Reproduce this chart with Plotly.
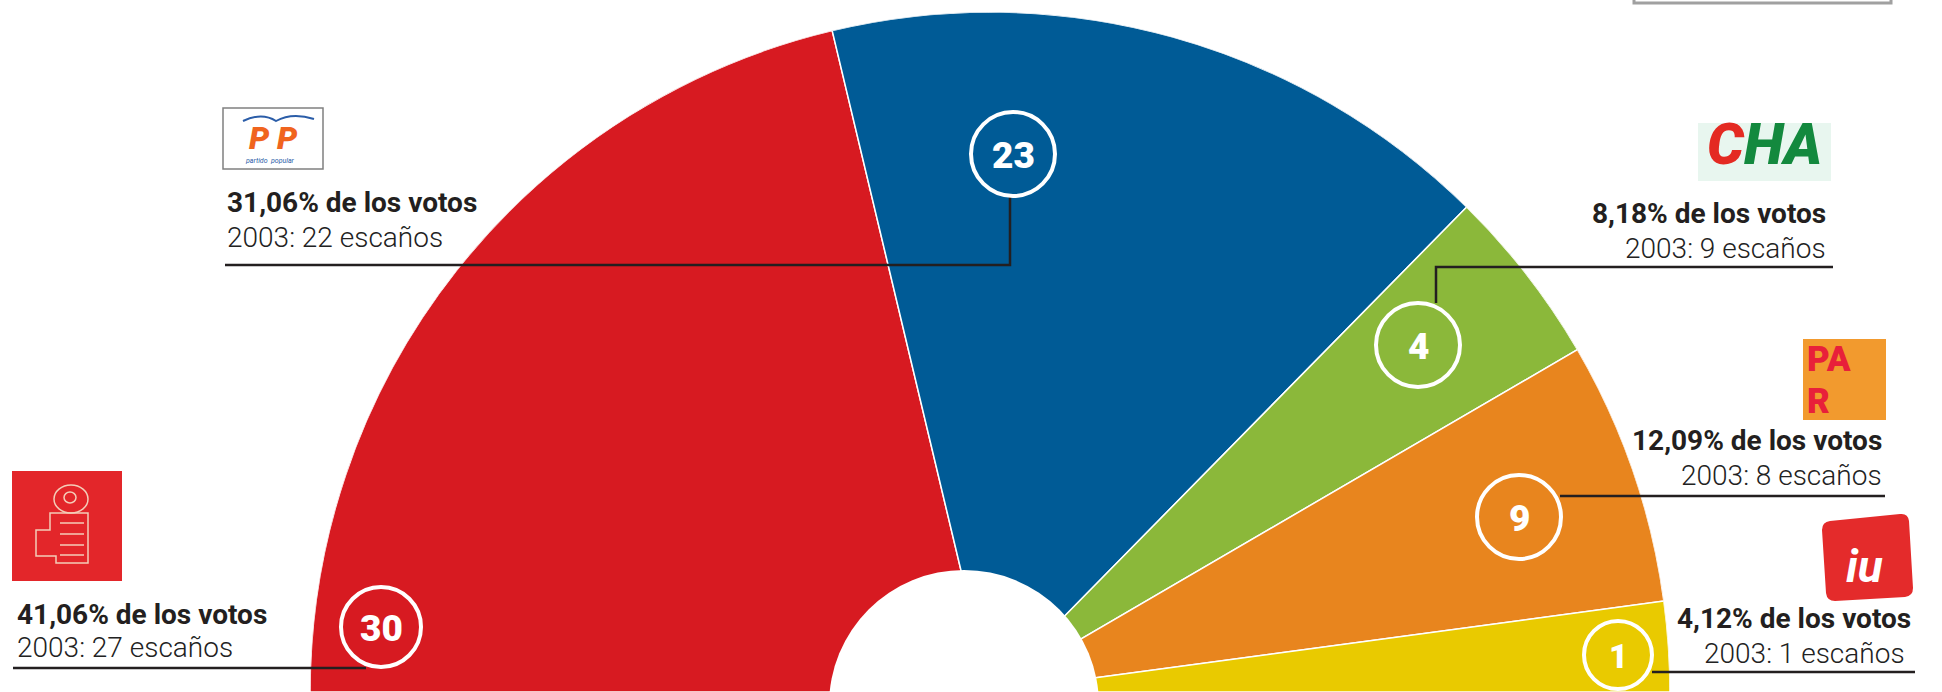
import plotly.graph_objects as go

# ---------------- data ----------------
parties = ["PSOE", "PP", "CHA", "PAR", "IU"]
seats = [30, 23, 4, 9, 1]
vote_pct = [41.06, 31.06, 8.18, 12.09, 4.12]
seats_2003 = [27, 22, 9, 8, 1]
colors = ["#D71A21", "#005B96", "#8BB83A", "#E8851E", "#E9CA00"]

# ---------------- layout helpers (pixel -> paper) ----------------
W, H = 1942, 692


def px(x):
    return x / W


def py(y):
    return 1 - y / H


# slice angles proportional to the vote share (as in the original graphic)
total = sum(vote_pct)
widths = [v / total * 180 for v in vote_pct]
thetas = []
acc = 0.0
for w in widths:
    thetas.append(acc + w / 2)
    acc += w

fig = go.Figure(
    go.Barpolar(
        r=[1] * len(parties),
        theta=thetas,
        width=widths,
        base=0,
        marker=dict(color=colors, line=dict(color="white", width=1.5)),
        hoverinfo="skip",
        showlegend=False,
    )
)

fig.update_layout(
    width=W,
    height=H,
    margin=dict(l=0, r=0, t=0, b=0),
    paper_bgcolor="white",
    plot_bgcolor="white",
    polar=dict(
        domain=dict(x=[px(310), px(1670)], y=[0, 680 / H]),
        sector=[0, 180],
        hole=0,
        bgcolor="rgba(0,0,0,0)",
        radialaxis=dict(range=[0, 1], visible=False, showgrid=False, showline=False, showticklabels=False, ticks=""),
        angularaxis=dict(visible=False, rotation=180, direction="clockwise", showgrid=False,
                         showline=False, showticklabels=False, ticks=""),
    ),
)

shapes = []
annotations = []

# centre hole (slightly offset, as in the original)
hc_x, hc_y, hr = 964, 705, 135
shapes.append(dict(type="circle", xref="paper", yref="paper",
                   x0=px(hc_x - hr), x1=px(hc_x + hr), y0=py(hc_y + hr), y1=py(hc_y - hr),
                   fillcolor="white", line=dict(width=0), layer="above"))

# label placement (pixels): circle centre, radius, number font size
circ_pos = [(381, 627, 40, 37), (1013, 154, 42, 37), (1418, 345, 42, 37), (1519, 517, 42, 37), (1618, 655, 34, 33)]
# text anchor: x, align, bold baseline, regular baseline
text_pos = [(15, "left", 624, 657), (225, "left", 212, 247), (1828, "right", 223, 258),
            (1884, "right", 450, 485), (1913, "right", 628, 663)]
leaders = [
    [(13, 668), (366, 668)],
    [(225, 265), (1010, 265), (1010, 196)],
    [(1833, 267), (1436, 267), (1436, 303)],
    [(1885, 496), (1560, 496)],
    [(1915, 672), (1652, 672)],
]

LINE = "#231F20"
for pts in leaders:
    path = "M " + " L ".join(f"{px(x)},{py(y)}" for x, y in pts)
    shapes.append(dict(type="path", xref="paper", yref="paper", path=path,
                       line=dict(color=LINE, width=2.5), layer="above"))

for i, (cx, cy, r, fs) in enumerate(circ_pos):
    shapes.append(dict(type="circle", xref="paper", yref="paper",
                       x0=px(cx - r), x1=px(cx + r), y0=py(cy + r), y1=py(cy - r),
                       line=dict(color="white", width=4), fillcolor="rgba(0,0,0,0)", layer="above"))
    annotations.append(dict(xref="paper", yref="paper", x=px(cx), y=py(cy + 1), text=f"{seats[i]}",
                            showarrow=False, xanchor="center", yanchor="middle",
                            font=dict(family="Roboto", size=fs, color="white", weight=900)))

BS = 28
RS = 28
for i, (tx, al, b1, b2) in enumerate(text_pos):
    pct = f"{vote_pct[i]:.2f}".replace(".", ",")
    annotations.append(dict(xref="paper", yref="paper", x=px(tx), y=py(b1 - 0.33 * BS),
                            text=f"<b>{pct}% de los votos</b>", showarrow=False,
                            xanchor=al, yanchor="middle",
                            font=dict(family="Roboto", size=BS, color="#231F20")))
    tx2 = tx - 6 if i == 4 else tx
    annotations.append(dict(xref="paper", yref="paper", x=px(tx2), y=py(b2 - 0.33 * RS),
                            text=f"2003: {seats_2003[i]} escaños", showarrow=False,
                            xanchor=al, yanchor="middle",
                            font=dict(family="Roboto", size=RS, color="#222222", weight=300)))


def rect(x0, y0, x1, y1, fill, line_color=None, lw=0):
    shapes.append(dict(type="rect", xref="paper", yref="paper",
                       x0=px(x0), x1=px(x1), y0=py(y1), y1=py(y0),
                       fillcolor=fill, line=dict(color=line_color or fill, width=lw), layer="above"))


def text(x, y, t, size, color, anchor="center", weight="normal", align="center"):
    annotations.append(dict(xref="paper", yref="paper", x=px(x), y=py(y), text=t, showarrow=False,
                            xanchor=anchor, yanchor="middle", align=align,
                            font=dict(family="Roboto", size=size, color=color, weight=weight)))


# ---- PSOE logo ----
rect(12, 471, 122, 581, "#E3262A")
LC = "#F4CDB8"
shapes.append(dict(type="circle", xref="paper", yref="paper", x0=px(54), x1=px(88), y0=py(513), y1=py(485),
                   line=dict(color=LC, width=1.5), layer="above"))
shapes.append(dict(type="circle", xref="paper", yref="paper", x0=px(64), x1=px(76), y0=py(503), y1=py(492),
                   line=dict(color=LC, width=1.5), layer="above"))
shapes.append(dict(type="path", xref="paper", yref="paper",
                   path=(f"M {px(50)},{py(513)} L {px(88)},{py(513)} L {px(88)},{py(563)} L {px(56)},{py(563)} "
                         f"L {px(56)},{py(556)} L {px(36)},{py(556)} L {px(36)},{py(530)} L {px(50)},{py(530)} Z"),
                   line=dict(color=LC, width=1.5), layer="above"))
for yy in (523, 534, 545, 555):
    shapes.append(dict(type="line", xref="paper", yref="paper", x0=px(60), x1=px(84), y0=py(yy), y1=py(yy),
                       line=dict(color=LC, width=1.5), layer="above"))

# ---- PP logo ----
rect(223, 108, 323, 169, "white", "#808080", 1.5)
shapes.append(dict(type="path", xref="paper", yref="paper",
                   path=(f"M {px(243)},{py(121)} Q {px(262)},{py(112)} {px(276)},{py(121)} "
                         f"Q {px(292)},{py(112)} {px(314)},{py(119)}"),
                   line=dict(color="#2B5DA8", width=2), layer="above"))
text(273, 138, "<i>P P</i>", 32, "#F0641E", weight=900)
text(270, 161, "<i>partido  popular</i>", 7, "#2B5DA8")

# ---- CHA logo ----
rect(1698, 123, 1831, 181, "#E8F6EF")
text(1764, 144, "<i><span style='color:#E42A22'>C</span><span style='color:#13893E'>HA</span></i>",
     58, "#13893E", weight=900)

# ---- PAR logo ----
rect(1803, 339, 1886, 420, "#F29A2E")
text(1805, 359, "PA", 35, "#E8203A", anchor="left", weight=900)
text(1805, 401, "R", 35, "#E8203A", anchor="left", weight=900)

# ---- IU logo ----
shapes.append(dict(type="path", xref="paper", yref="paper",
                   path=(f"M {px(1822)},{py(530)} Q {px(1822)},{py(522)} {px(1830)},{py(521)} "
                         f"L {px(1900)},{py(514)} Q {px(1908)},{py(513)} {px(1909)},{py(521)} "
                         f"L {px(1913)},{py(588)} Q {px(1913)},{py(596)} {px(1905)},{py(597)} "
                         f"L {px(1835)},{py(601)} Q {px(1827)},{py(601)} {px(1826)},{py(593)} Z"),
                   fillcolor="#E42B2B", line=dict(color="#E42B2B", width=0), layer="above"))
text(1864, 566, "<b><i>iu</i></b>", 46, "white")

# ---- partially visible box at the top right ----
rect(1634, -20, 1891, 3, "white", "#A0A0A0", 3)

fig.update_layout(shapes=shapes, annotations=annotations)

fig.write_html("out.html", config={"displayModeBar": False},
               post_script="document.body.style.margin='0px';")
